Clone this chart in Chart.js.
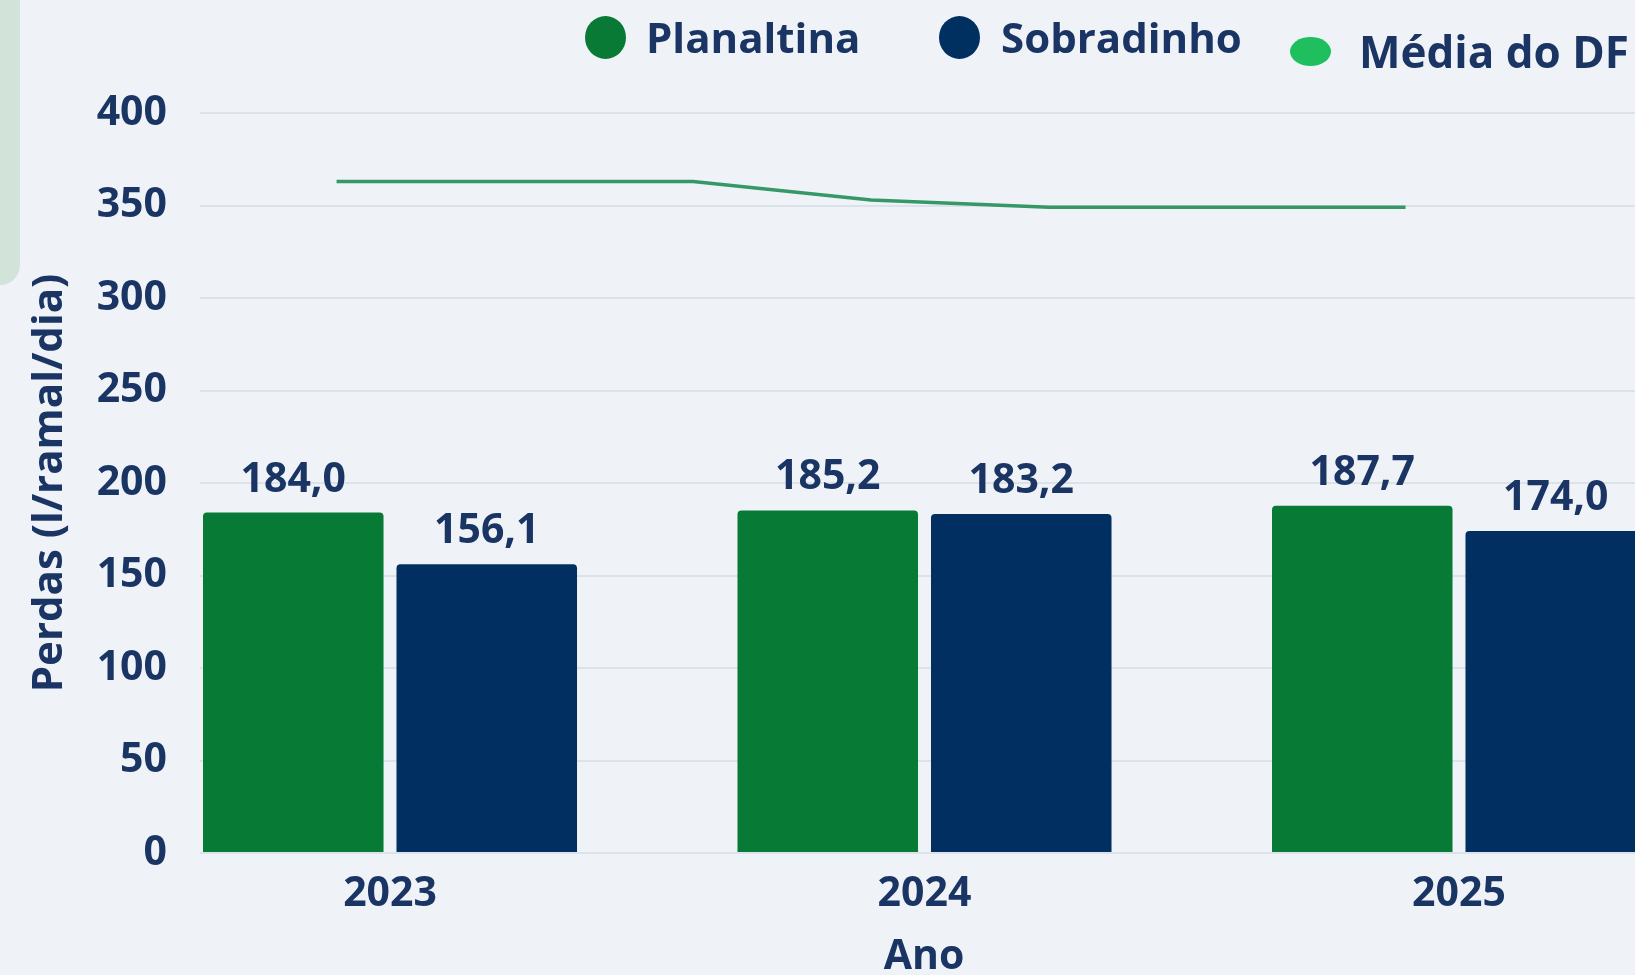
<!DOCTYPE html>
<html lang="pt-BR">
<head>
<meta charset="utf-8">
<title>Perdas por ramal</title>
<script src="https://cdn.jsdelivr.net/npm/chart.js@4.4.1/dist/chart.umd.min.js"></script>
<style>
    html, body {
        margin: 0;
        padding: 0;
        width: 1635px;
        height: 975px;
        overflow: hidden;
        background: #eff3f7;
        font-family: 'Open Sans', sans-serif;
    }
    .side-panel {
        position: absolute;
        left: 0;
        top: 0;
        width: 20px;
        height: 285px;
        background: #d2e3d9;
        border-bottom-right-radius: 24px;
    }
    .chart-wrap {
        position: absolute;
        left: 0;
        top: 0;
        width: 1648px;
        height: 975px;
    }
    .legend-item {
        position: absolute;
        display: flex;
        align-items: center;
        color: #1a3563;
        font-weight: 700;
        white-space: nowrap;
    }
    .legend-dot {
        display: inline-block;
        border-radius: 50%;
    }
</style>
</head>
<body>
<div class="side-panel"></div>
<div class="chart-wrap">
    <canvas id="perdasChart" width="1648" height="975"></canvas>
</div>

<div class="legend-item" style="left:585px; top:8px; font-size:42px; line-height:58px;">
    <span class="legend-dot" style="width:41px; height:43px; background:#087a35; margin-right:20px;"></span>Planaltina
</div>
<div class="legend-item" style="left:939px; top:8px; font-size:42px; line-height:58px;">
    <span class="legend-dot" style="width:41px; height:43px; background:#00305f; margin-right:21px;"></span>Sobradinho
</div>
<div class="legend-item" style="left:1290px; top:21px; font-size:44px; line-height:60px;">
    <span class="legend-dot" style="width:41px; height:29px; background:#1fbf5f; margin-right:28px;"></span>Média do DF
</div>

<script>
// Dados
const anos = [2023, 2024, 2025];
const planaltina = [184.0, 185.2, 187.7];
const sobradinho = [156.1, 183.2, 174.0];
// Média do DF ao longo dos períodos (fração do ano)
const periodosMedia = [2022.9, 2023.233, 2023.567, 2023.9, 2024.233, 2024.567, 2024.9];
const mediaDF = [363, 363, 363, 353, 349, 349, 349];
const yTicks = [0, 50, 100, 150, 200, 250, 300, 350, 400];

const corTexto = '#1a3563';
const fonte = '"Open Sans", sans-serif';

// Valores em cima das barras (formato pt-BR)
const rotulosBarras = {
    id: 'rotulosBarras',
    afterDatasetsDraw(chart) {
        const ctx = chart.ctx;
        ctx.save();
        ctx.font = '700 41px ' + fonte;
        ctx.fillStyle = corTexto;
        ctx.textAlign = 'center';
        ctx.textBaseline = 'alphabetic';
        chart.data.datasets.forEach((ds, i) => {
            if (ds.type === 'line') return;
            chart.getDatasetMeta(i).data.forEach((bar, j) => {
                const v = ds.data[j].y;
                ctx.fillText(v.toFixed(1).replace('.', ','), bar.x, bar.y - 21);
            });
        });
        ctx.restore();
    }
};

const ctx = document.getElementById('perdasChart');
new Chart(ctx, {
    type: 'bar',
    data: {
        datasets: [{
            type: 'line',
            label: 'Média do DF',
            data: periodosMedia.map((x, i) => ({ x: x, y: mediaDF[i] })),
            borderColor: '#369866',
            borderWidth: 3.5,
            pointRadius: 0,
            tension: 0,
            order: 0
        }, {
            label: 'Planaltina',
            data: anos.map((a, i) => ({ x: a, y: planaltina[i] })),
            backgroundColor: '#077a35',
            borderRadius: 4,
            borderSkipped: 'start',
            categoryPercentage: 0.724,
            barPercentage: 0.933,
            order: 1
        }, {
            label: 'Sobradinho',
            data: anos.map((a, i) => ({ x: a, y: sobradinho[i] })),
            backgroundColor: '#012f62',
            borderRadius: 4,
            borderSkipped: 'start',
            categoryPercentage: 0.724,
            barPercentage: 0.933,
            order: 1
        }]
    },
    options: {
        responsive: false,
        animation: false,
        devicePixelRatio: 1,
        layout: {
            padding: { top: 113, left: 0, right: 0, bottom: 0 }
        },
        plugins: {
            legend: { display: false },
            tooltip: { enabled: false }
        },
        scales: {
            x: {
                type: 'linear',
                offset: false,
                min: 2022.6445,
                max: 2025.3536,
                grid: { display: false, offset: false },
                border: { display: false },
                afterBuildTicks: scale => {
                    scale.ticks = anos.map(a => ({ value: a }));
                },
                afterFit: scale => {
                    scale.height = 122;
                },
                ticks: {
                    color: corTexto,
                    font: { family: fonte, size: 41, weight: '700' },
                    padding: 9,
                    callback: v => String(v)
                },
                title: {
                    display: true,
                    text: 'Ano',
                    color: corTexto,
                    font: { family: fonte, size: 41, weight: '700', lineHeight: 1 },
                    padding: { top: 0, bottom: -3 }
                }
            },
            y: {
                min: 0,
                max: 400,
                afterBuildTicks: scale => {
                    scale.ticks = yTicks.map(v => ({ value: v }));
                },
                afterFit: scale => {
                    scale.width = 200;
                },
                grid: {
                    color: '#dce2e9',
                    lineWidth: 2,
                    drawTicks: false
                },
                border: { display: false },
                ticks: {
                    color: corTexto,
                    font: { family: fonte, size: 41, weight: '700' },
                    padding: 33
                },
                title: {
                    display: true,
                    text: 'Perdas (l/ramal/dia)',
                    color: corTexto,
                    font: { family: fonte, size: 42, weight: '700', lineHeight: 1.2 },
                    padding: { top: 25, bottom: 0 }
                }
            }
        }
    },
    plugins: [rotulosBarras]
});
</script>
</body>
</html>
